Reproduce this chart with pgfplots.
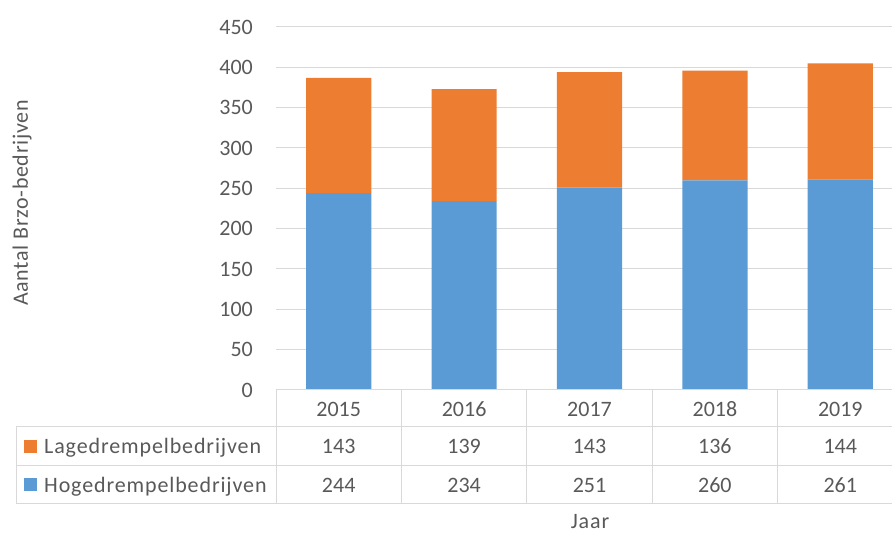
\documentclass[border=0pt]{standalone}
\usepackage{fontspec}
\setmainfont{Carlito}
\usepackage{pgfplots}
\pgfplotsset{compat=1.18}
\definecolor{lage}{HTML}{ED7D31}
\definecolor{hoge}{HTML}{5B9BD5}
\definecolor{txt}{HTML}{595959}
\definecolor{grd}{HTML}{D9D9D9}
\begin{document}
\fontsize{22}{26}\selectfont
\begin{tikzpicture}[x=1pt,y=1pt]
\path[use as bounding box] (0,0) rectangle (892,534);
\begin{axis}[
  at={(276pt,144pt)}, anchor=south west,
  scale only axis, width=616pt, height=363pt,
  xmin=-0.5, xmax=4.412, ymin=0, ymax=450,
  enlargelimits=false,
  ybar stacked, bar width=0.52,
  axis line style={draw=none},
  xtick=\empty,
  ytick={0,50,...,450},
  ymajorgrids, grid style={grd, line width=1pt},
  major tick length=0pt,
  yticklabel style={font=\fontsize{22}{26}\selectfont, text=txt, anchor=east, inner sep=0pt, xshift=-23pt},
  /pgf/number format/assume math mode=true,
  clip=false,
]
\addplot[fill=hoge, draw=none] coordinates {(0,244)(1,234)(2,251)(3,260)(4,261)};
\addplot[fill=lage, draw=none] coordinates {(0,143)(1,139)(2,143)(3,136)(4,144)};
\end{axis}
% data table
\draw[grd, line width=1pt]
  (276,144) -- (892,144)
  (16,107) -- (892,107)
  (16,68) -- (892,68)
  (16,30) -- (892,30)
  (16,107) -- (16,30)
  (276,144) -- (276,30)
  (401.4,144) -- (401.4,30)
  (526.8,144) -- (526.8,30)
  (652.2,144) -- (652.2,30)
  (777.6,144) -- (777.6,30);
\begin{scope}[every node/.style={text=txt, inner sep=0pt, anchor=base}]
\node at (338.7,117) {2015};
\node at (464.1,117) {2016};
\node at (589.5,117) {2017};
\node at (714.9,117) {2018};
\node at (840.3,117) {2019};
\node at (338.7,80) {143};
\node at (464.1,80) {139};
\node at (589.5,80) {143};
\node at (714.9,80) {136};
\node at (840.3,80) {144};
\node at (338.7,41) {244};
\node at (464.1,41) {234};
\node at (589.5,41) {251};
\node at (714.9,41) {260};
\node at (840.3,41) {261};
\node[anchor=base west] at (44,80) {\addfontfeature{LetterSpace=4}Lagedrempelbedrijven};
\node[anchor=base west] at (44,41) {\addfontfeature{LetterSpace=4}Hogedrempelbedrijven};
\node at (590,5) {\addfontfeature{LetterSpace=4}Jaar};
\end{scope}
\fill[lage] (24,81) rectangle (37,94);
\fill[hoge] (24,43) rectangle (37,56);
\node[text=txt, rotate=90, inner sep=0pt] at (22,331) {\addfontfeature{LetterSpace=3}Aantal Brzo-bedrijven};
\end{tikzpicture}
\end{document}
